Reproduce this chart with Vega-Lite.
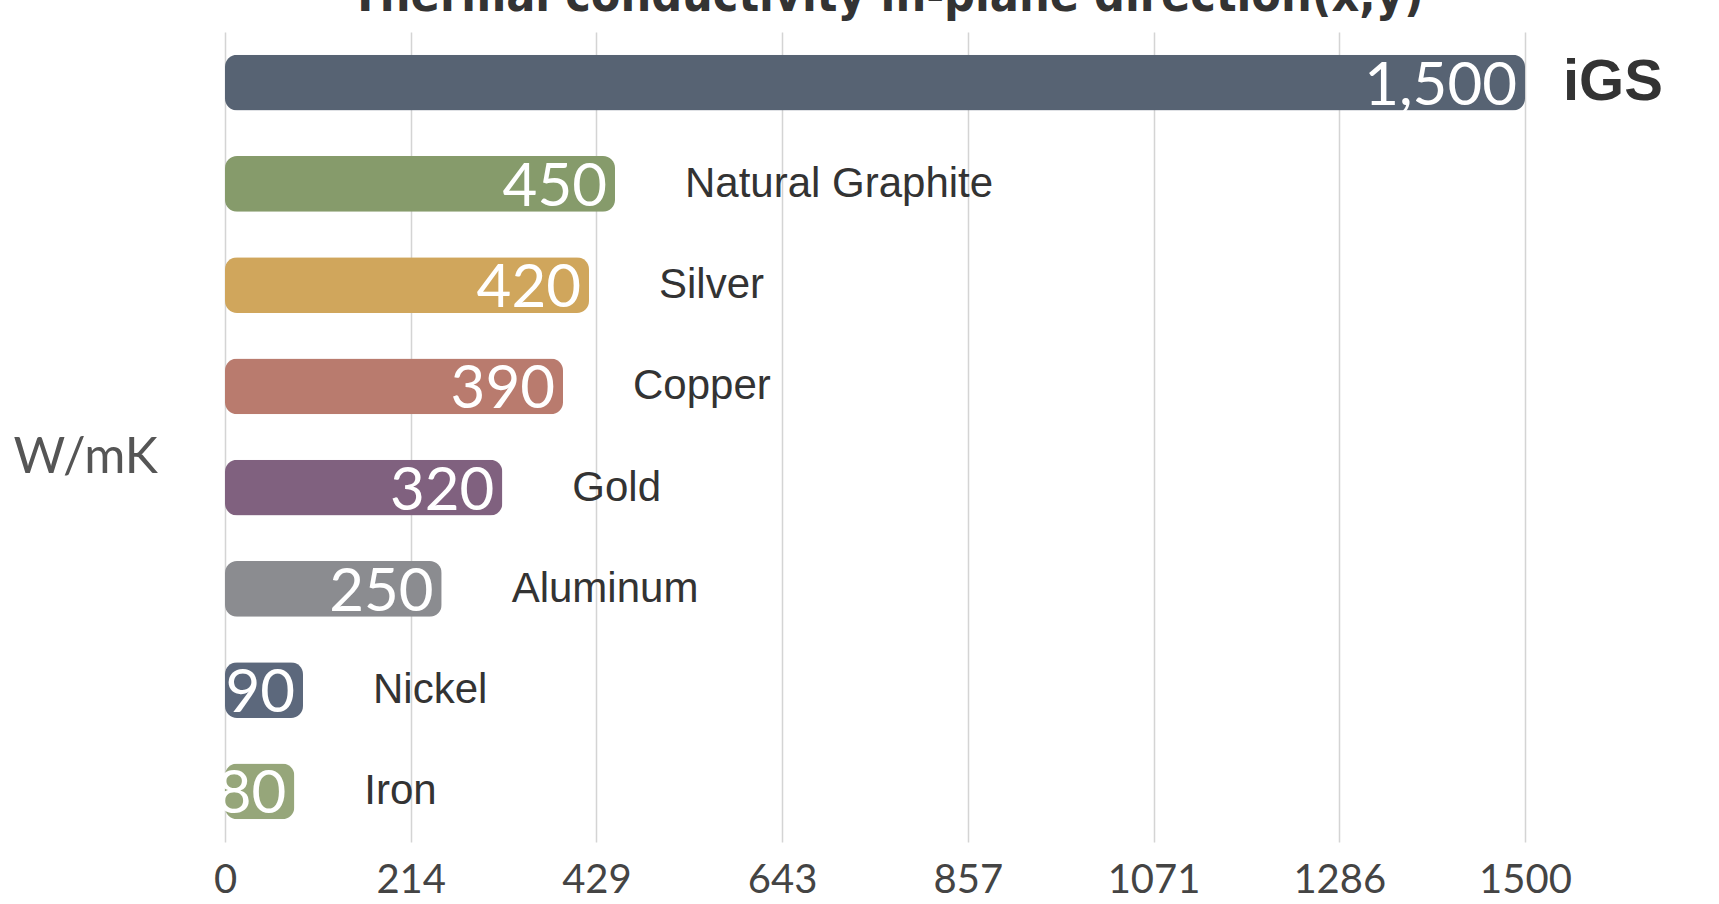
{
  "$schema": "https://vega.github.io/schema/vega-lite/v6.json",
  "autosize": {"type": "none"},
  "width": 1300,
  "height": 810,
  "padding": {"left": 225, "top": 32, "right": 194, "bottom": 62},
  "background": "white",
  "config": {"view": {"stroke": null}},
  "title": {
    "text": "Thermal conductivity in-plane direction(x,y)",
    "font": "DejaVu Sans Condensed, DejaVu Sans, sans-serif",
    "fontWeight": "bold",
    "fontSize": 48,
    "color": "#333333",
    "anchor": "middle",
    "baseline": "alphabetic",
    "offset": 14,
    "dx": 12,
    "dy": 41
  },
  "data": {
    "values": [
      {"material": "iGS", "value": 1500},
      {"material": "Natural Graphite", "value": 450},
      {"material": "Silver", "value": 420},
      {"material": "Copper", "value": 390},
      {"material": "Gold", "value": 320},
      {"material": "Aluminum", "value": 250},
      {"material": "Nickel", "value": 90},
      {"material": "Iron", "value": 80}
    ]
  },
  "encoding": {
    "y": {
      "field": "material",
      "type": "nominal",
      "sort": null,
      "scale": {"paddingInner": 0.45, "paddingOuter": 0.225},
      "axis": {
        "title": "W/mK",
        "titleAngle": 0,
        "titleAlign": "left",
        "titleBaseline": "middle",
        "titleX": -212,
        "titleY": 425,
        "titleFont": "Lato",
        "titleFontWeight": "normal",
        "titleFontSize": 50,
        "titleColor": "#555555",
        "labels": false,
        "ticks": false,
        "domain": false,
        "grid": false
      }
    },
    "x": {
      "field": "value",
      "type": "quantitative",
      "scale": {"domain": [0, 1500], "nice": false, "zero": true},
      "axis": {
        "title": null,
        "values": [0, 214.2857, 428.5714, 642.8571, 857.1429, 1071.4286, 1285.7143, 1500],
        "format": "d",
        "labelFont": "Lato",
        "labelFontSize": 40,
        "labelColor": "#444444",
        "labelPadding": 18,
        "labelFlush": false,
        "ticks": false,
        "domain": false,
        "grid": true,
        "gridColor": "#d4d4d4",
        "gridWidth": 1.5
      }
    }
  },
  "layer": [
    {
      "mark": {"type": "bar", "cornerRadius": 12},
      "encoding": {
        "color": {
          "field": "material",
          "type": "nominal",
          "legend": null,
          "scale": {
            "domain": ["iGS", "Natural Graphite", "Silver", "Copper", "Gold", "Aluminum", "Nickel", "Iron"],
            "range": ["#576373", "#869b6b", "#d0a65c", "#b97b6e", "#80617f", "#8b8c90", "#5c687c", "#96a67a"]
          }
        }
      }
    },
    {
      "mark": {"type": "text", "align": "right", "baseline": "middle", "dx": -8, "dy": 4, "font": "Lato", "fontSize": 60, "color": "white"},
      "encoding": {"text": {"field": "value", "type": "quantitative", "format": ",d"}}
    },
    {
      "transform": [{"filter": "datum.material !== 'iGS'"}],
      "mark": {"type": "text", "align": "left", "baseline": "middle", "dx": 70, "font": "Liberation Sans", "fontSize": 42, "color": "#333333"},
      "encoding": {"text": {"field": "material", "type": "nominal"}}
    },
    {
      "transform": [{"filter": "datum.material === 'iGS'"}],
      "mark": {"type": "text", "align": "left", "baseline": "middle", "dx": 38, "font": "Liberation Sans", "fontWeight": "bold", "fontSize": 58, "color": "#333333"},
      "encoding": {"text": {"field": "material", "type": "nominal"}}
    }
  ]
}
